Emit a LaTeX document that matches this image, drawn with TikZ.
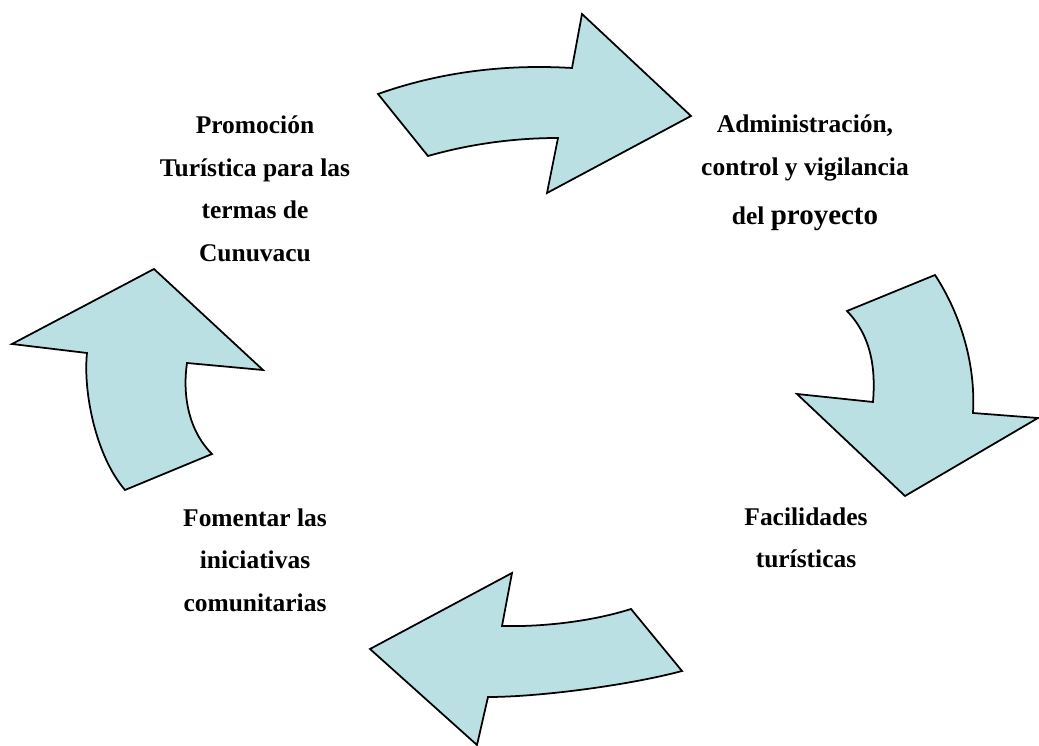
\documentclass[tikz,border=0pt]{standalone}
\usepackage{fontspec}
\setmainfont{Liberation Serif}
\definecolor{arrowFill}{RGB}{187,224,227}

\begin{document}
\begin{tikzpicture}[x=0.02cm,y=-0.02cm,
  cycleArrow/.style={draw=black,fill=arrowFill,line width=1pt,line join=miter},
  stepLabel/.style={align=center,font=\fontsize{14.5}{24.2}\selectfont\bfseries}]
\useasboundingbox (0,0) rectangle (1039,746);

% Curved arrows of the cycle (clockwise)

% top
\draw[cycleArrow] (378,94) .. controls (440,72) and (505,64) .. (572,68)
  -- (582,14) -- (691,116) -- (547,193) -- (558,138)
  .. controls (514,138) and (470,144) .. (428,156) -- cycle;
% right
\draw[cycleArrow] (873,402) .. controls (876,365) and (870,335) .. (847,311)
  -- (935,275) .. controls (958,310) and (976,360) .. (973,413)
  -- (1038,418) -- (905,496) -- (797,394) -- cycle;
% bottom
\draw[cycleArrow] (502,626) .. controls (540,627) and (590,622) .. (631,609)
  -- (682,671) .. controls (630,685) and (540,697) .. (488,697)
  -- (477,745) -- (370,649) -- (512,573) -- cycle;
% left
\draw[cycleArrow] (87,353) .. controls (83,390) and (95,455) .. (125,490)
  -- (212,454) .. controls (186,428) and (183,390) .. (187,363)
  -- (263,370) -- (154,269) -- (12,344) -- cycle;

% Step texts
\node[stepLabel] (promo) at (255,189) {Promoción\\Turística para las\\termas de\\Cunuvacu};
\node[stepLabel] (admin) at (805,173) {Administración,\\control y vigilancia\\[4pt]del {\fontsize{16.5}{24.2}\selectfont proyecto}};
\node[stepLabel] (facil) at (806,538) {Facilidades\\turísticas};
\node[stepLabel] (fomento) at (255,560) {Fomentar las\\iniciativas\\comunitarias};
\end{tikzpicture}
\end{document}
